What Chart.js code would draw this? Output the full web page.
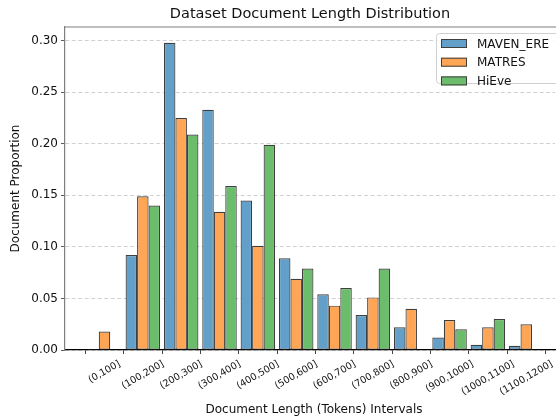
<!DOCTYPE html>
<html>
<head>
<meta charset="utf-8">
<script src="https://cdn.jsdelivr.net/npm/chart.js@4.4.0/dist/chart.umd.min.js"></script>
<style>
    html, body { margin: 0; padding: 0; background: #fff; }
</style>
</head>
<body>
<canvas id="lengthChart" width="556" height="417"></canvas>
<script>
// Data
const intervals = ['(0,100]', '(100,200]', '(200,300]', '(300,400]', '(400,500]', '(500,600]',
    '(600,700]', '(700,800]', '(800,900]', '(900,1000]', '(1000,1100]', '(1100,1200]'];
const mavenEre = [0.001, 0.092, 0.298, 0.233, 0.145, 0.089, 0.054, 0.034, 0.022, 0.012, 0.005, 0.004];
const matres = [0.018, 0.149, 0.225, 0.134, 0.101, 0.069, 0.043, 0.051, 0.040, 0.029, 0.022, 0.025];
const hieve = [0, 0.140, 0.209, 0.159, 0.199, 0.079, 0.060, 0.079, 0, 0.020, 0.030, 0];
const yTicks = [0, 0.05, 0.10, 0.15, 0.20, 0.25, 0.30];

const FONT = 'DejaVu Sans';
Chart.defaults.font.family = FONT;
Chart.defaults.color = '#111';

function toPoints(values) {
    return values.map((v, i) => ({ x: i, y: v }));
}

function series(label, values, fill) {
    return {
        label: label,
        data: toPoints(values),
        backgroundColor: fill,
        borderColor: '#3f3f3f',
        borderWidth: 1.2,
        borderSkipped: false,
        categoryPercentage: 0.9,
        barPercentage: 1.0
    };
}

// Title, top spine, rotated x labels (centred on their ticks) and legend box
const decorations = {
    id: 'decorations',
    afterDraw(chart) {
        const ctx = chart.ctx;
        const area = chart.chartArea;
        const xScale = chart.scales.x;
        ctx.save();

        // top spine
        ctx.strokeStyle = '#7f7f7f';
        ctx.lineWidth = 1.2;
        ctx.beginPath();
        ctx.moveTo(area.left, area.top);
        ctx.lineTo(area.right + 2, area.top);
        ctx.stroke();

        // title
        ctx.fillStyle = '#111';
        ctx.font = '14.5px "' + FONT + '"';
        ctx.textAlign = 'center';
        ctx.textBaseline = 'middle';
        ctx.fillText('Dataset Document Length Distribution', (area.left + area.right) / 2, 14);

        // x tick labels, rotated 30 degrees, bounding box centred under the tick
        const size = 9.6, h = size * 1.17;
        const ang = Math.PI / 6;
        ctx.font = size + 'px "' + FONT + '"';
        intervals.forEach((label, i) => {
            const w = ctx.measureText(label).width;
            const boxH = w * Math.sin(ang) + h * Math.cos(ang);
            const px = xScale.getPixelForValue(i);
            const py = area.bottom + 8.4 + boxH / 2;
            ctx.save();
            ctx.translate(px, py);
            ctx.rotate(-ang);
            ctx.textAlign = 'center';
            ctx.textBaseline = 'middle';
            ctx.fillText(label, 0, 0);
            ctx.restore();
        });

        // x axis title
        ctx.font = '12px "' + FONT + '"';
        ctx.textAlign = 'center';
        ctx.textBaseline = 'middle';
        ctx.fillText('Document Length (Tokens) Intervals', (area.left + area.right) / 2 + 4, 409.5);

        // legend
        const bx = area.right - 119, by = area.top + 6;
        ctx.fillStyle = 'rgba(255,255,255,0.85)';
        ctx.strokeStyle = '#d0d0d0';
        ctx.lineWidth = 1;
        ctx.beginPath();
        ctx.roundRect(bx + 0.5, by + 0.5, 130, 50, 3);
        ctx.fill();
        ctx.stroke();

        ctx.textAlign = 'left';
        chart.data.datasets.forEach((ds, i) => {
            const cy = by + 10.5 + i * 18.7;
            ctx.fillStyle = ds.backgroundColor;
            ctx.fillRect(bx + 5, cy - 4.5, 26, 9);
            ctx.strokeStyle = ds.borderColor;
            ctx.strokeRect(bx + 5.5, cy - 4, 25, 8);
            ctx.fillStyle = '#111';
            ctx.fillText(ds.label, bx + 41, cy + 1);
        });
        ctx.restore();
    }
};

const ctx = document.getElementById('lengthChart').getContext('2d');
new Chart(ctx, {
    type: 'bar',
    data: {
        datasets: [
            series('MAVEN_ERE', mavenEre, '#62a0ca'),
            series('MATRES', matres, '#ffa556'),
            series('HiEve', hieve, '#6bbc6b')
        ]
    },
    options: {
        responsive: false,
        animation: false,
        devicePixelRatio: 1,
        layout: {
            padding: { top: 27, right: 1, left: 0, bottom: 0 }
        },
        plugins: {
            legend: { display: false },
            title: { display: false },
            tooltip: { enabled: false }
        },
        scales: {
            x: {
                type: 'linear',
                min: -1.03,
                max: 11.75,
                offset: false,
                afterBuildTicks: function(axis) {
                    axis.ticks = intervals.map((_, i) => ({ value: i }));
                },
                afterFit: function(axis) {
                    axis.height = 67;
                },
                ticks: {
                    display: false
                },
                grid: {
                    drawOnChartArea: false,
                    drawTicks: true,
                    tickLength: 4,
                    tickColor: '#444'
                },
                border: {
                    color: '#000',
                    width: 1.2
                }
            },
            y: {
                min: 0,
                max: 0.3132,
                afterBuildTicks: function(axis) {
                    axis.ticks = yTicks.map(v => ({ value: v }));
                },
                afterFit: function(axis) {
                    axis.width = 65;
                },
                ticks: {
                    padding: 3,
                    font: { size: 12 },
                    callback: function(value) {
                        return value.toFixed(2);
                    }
                },
                grid: {
                    color: 'rgba(170, 170, 170, 0.7)',
                    lineWidth: 0.8,
                    tickLength: 4,
                    tickColor: '#333',
                    tickBorderDash: []
                },
                border: {
                    color: '#7f7f7f',
                    width: 1.2,
                    dash: [4, 2.5]
                },
                title: {
                    display: true,
                    text: 'Document Proportion',
                    font: { size: 12 },
                    padding: { top: 9, bottom: 0 }
                }
            }
        }
    },
    plugins: [decorations]
});
</script>
</body>
</html>
